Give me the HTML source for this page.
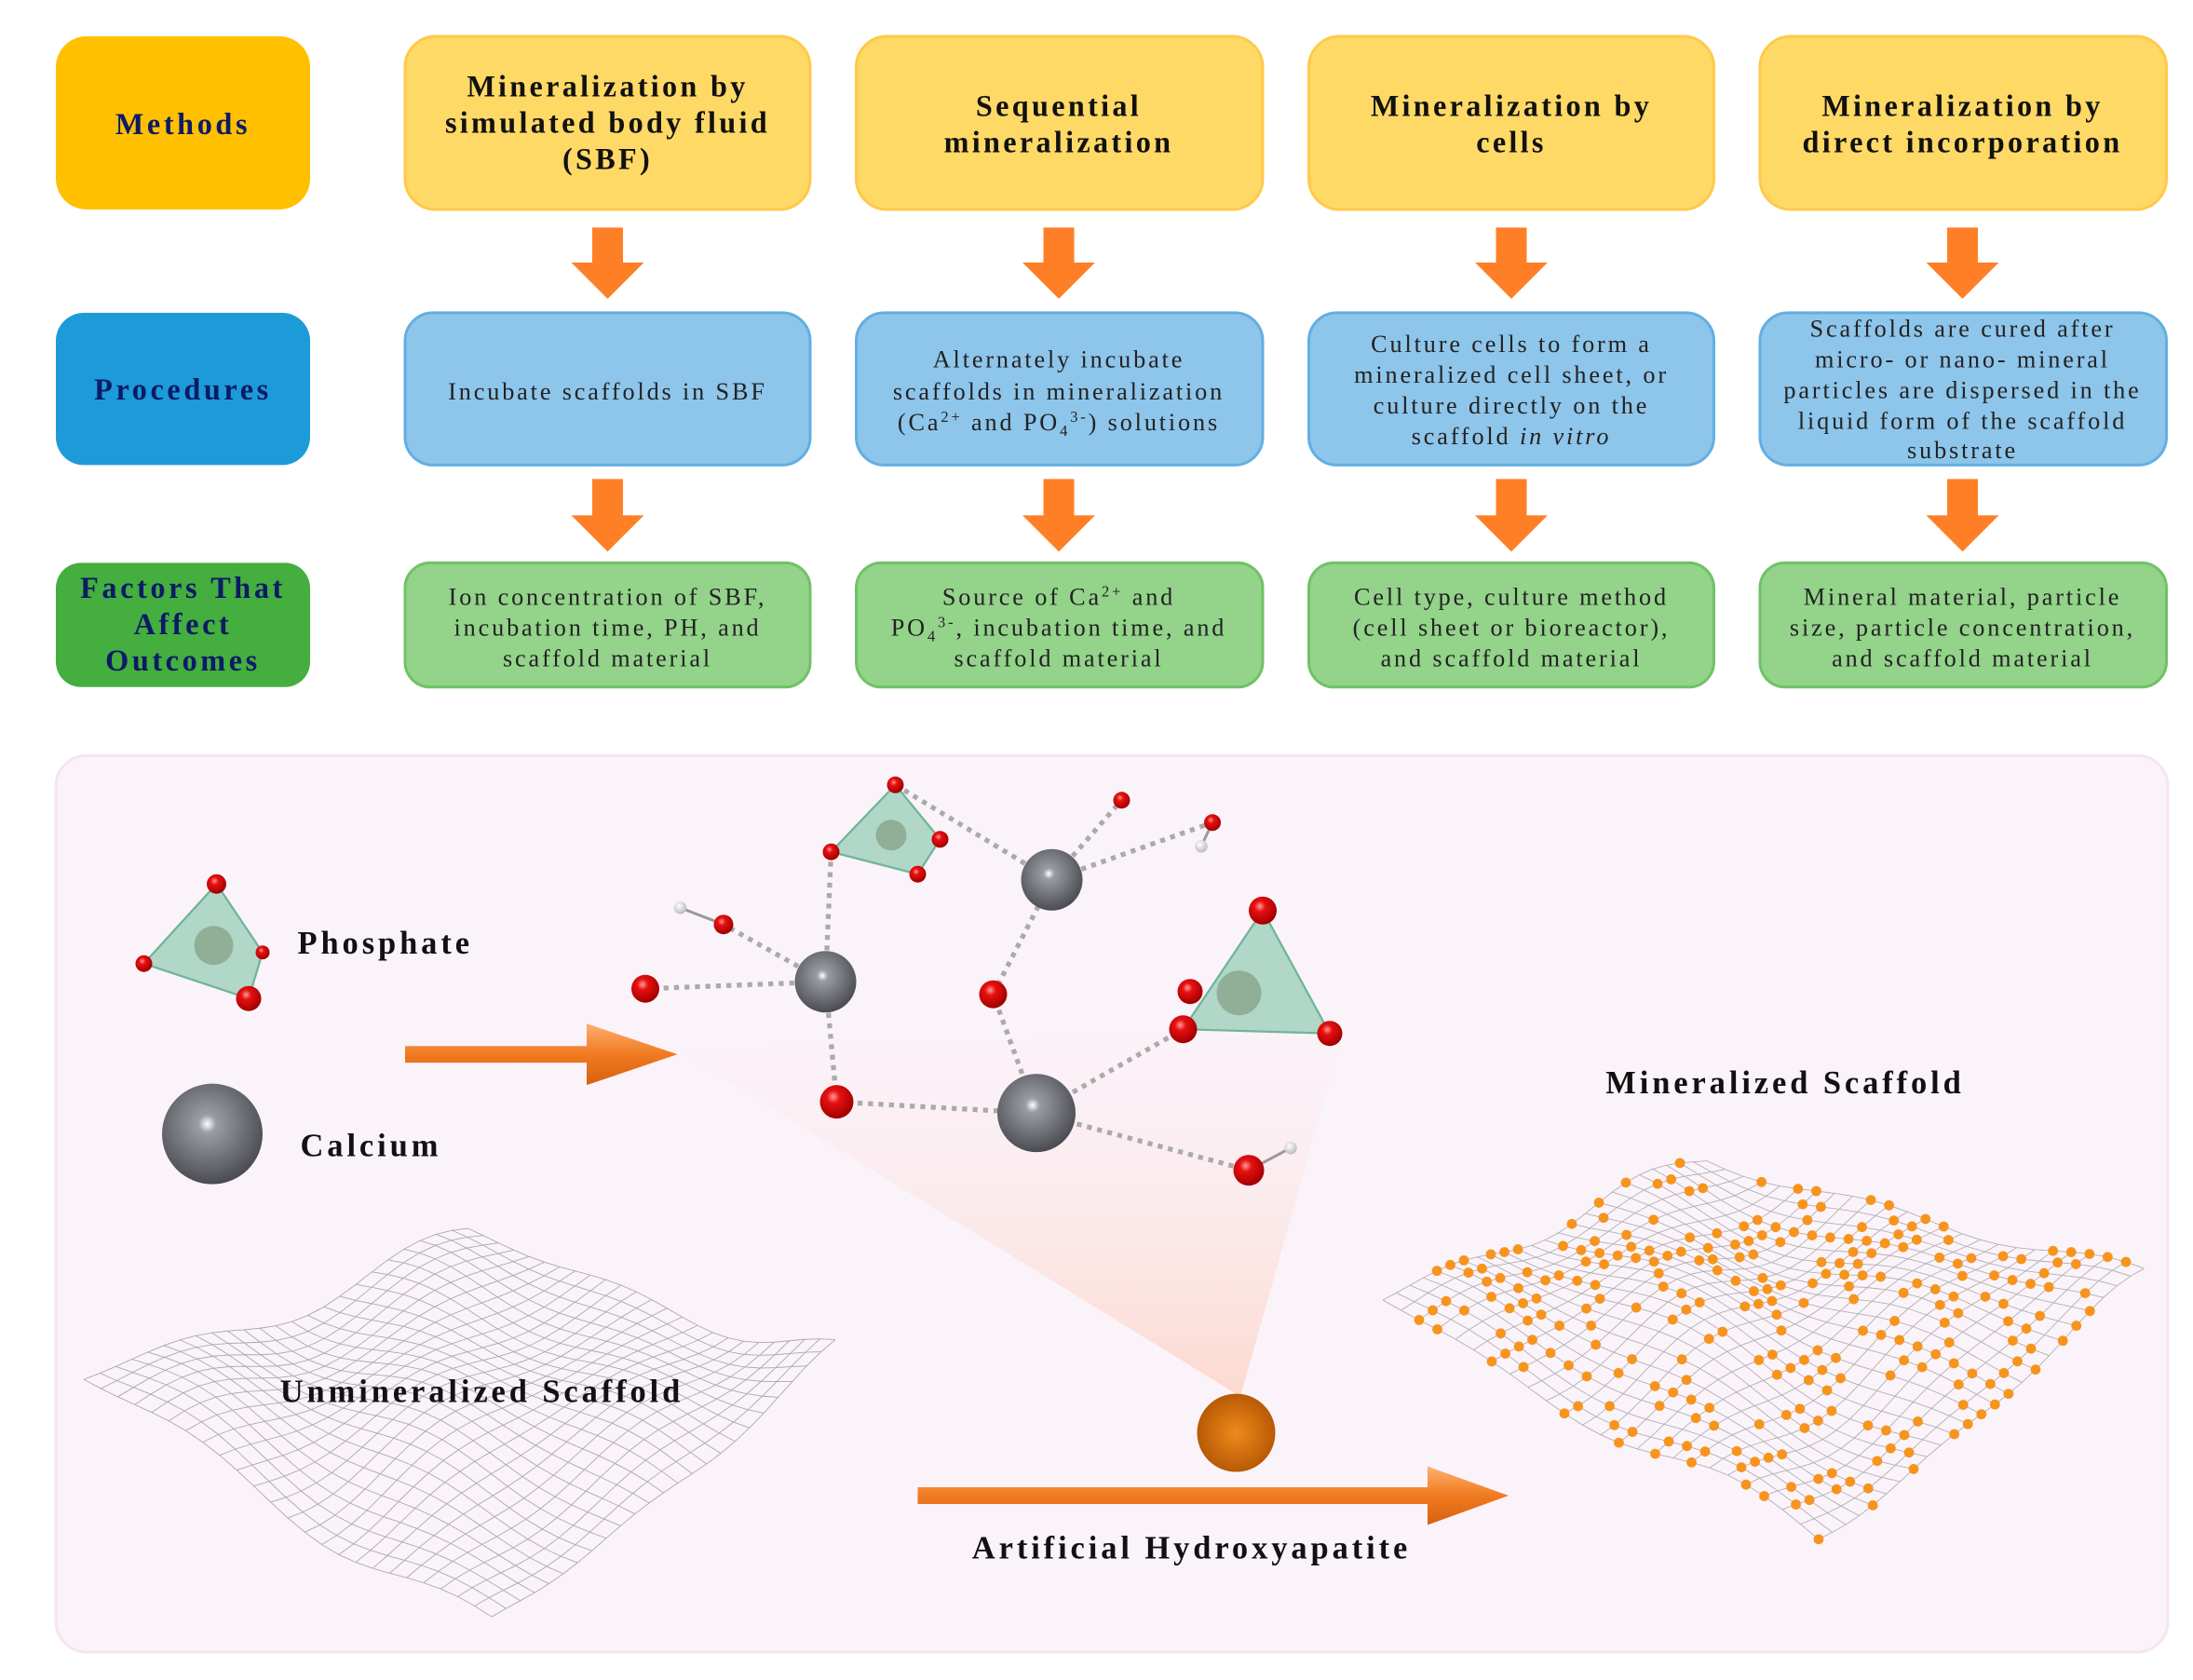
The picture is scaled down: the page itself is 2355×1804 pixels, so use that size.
<!DOCTYPE html>
<html><head><meta charset="utf-8"><style>
html,body{margin:0;padding:0;background:#fff}
svg{display:block}
.h{font-family:"Liberation Serif",serif;font-weight:bold;font-size:21.5px;fill:#111;text-anchor:middle;letter-spacing:2.2px}
.l{font-family:"Liberation Serif",serif;font-weight:bold;font-size:21.5px;fill:#0d1a66;text-anchor:middle;letter-spacing:2.4px}
.b{font-family:"Liberation Serif",serif;font-size:17.5px;fill:#222;text-anchor:middle;letter-spacing:1.9px}
.t{font-family:"Liberation Serif",serif;font-weight:bold;font-size:23px;fill:#111;letter-spacing:2.6px}
</style></head><body>
<svg id="s" width="2355" height="1804" viewBox="0 0 1570 1203" preserveAspectRatio="none" xmlns="http://www.w3.org/2000/svg">
<defs>
<radialGradient id="ca" cx="0.45" cy="0.4" r="0.6"><stop offset="0" stop-color="#fff"/><stop offset="0.15" stop-color="#9a9ca3"/><stop offset="1" stop-color="#4a4c52"/></radialGradient>
<radialGradient id="ox" cx="0.4" cy="0.35" r="0.65"><stop offset="0" stop-color="#ff9a9a"/><stop offset="0.3" stop-color="#e81010"/><stop offset="1" stop-color="#a00000"/></radialGradient>
<radialGradient id="hy" cx="0.4" cy="0.35" r="0.65"><stop offset="0" stop-color="#fff"/><stop offset="1" stop-color="#bbb"/></radialGradient>
<radialGradient id="hap" cx="0.5" cy="0.5" r="0.5"><stop offset="0" stop-color="#f08a1c"/><stop offset="1" stop-color="#b85a05"/></radialGradient>
<linearGradient id="cone" x1="0" y1="0" x2="0" y2="1"><stop offset="0" stop-color="#fbeef3" stop-opacity="0.2"/><stop offset="1" stop-color="#fcd9cf"/></linearGradient>
<linearGradient id="arr" x1="0" y1="0" x2="0" y2="1"><stop offset="0" stop-color="#ffb070"/><stop offset="0.5" stop-color="#f07a20"/><stop offset="1" stop-color="#d86010"/></linearGradient>
</defs>
<rect x="40" y="26" width="182" height="124" rx="22" fill="#FFC000"/>
<text class="l" x="131" y="96">Methods</text>
<rect x="40" y="224" width="182" height="109" rx="20" fill="#1C9BD8"/>
<text class="l" x="131" y="286">Procedures</text>
<rect x="40" y="403" width="182" height="89" rx="18" fill="#44AE3E"/>
<text class="l" x="131" y="428">Factors That</text>
<text class="l" x="131" y="454">Affect</text>
<text class="l" x="131" y="480">Outcomes</text>

<g fill="#FFD966" stroke="#FFC94A" stroke-width="2">
<rect x="290" y="26" width="290" height="124" rx="22"/><rect x="613" y="26" width="291" height="124" rx="22"/>
<rect x="937" y="26" width="290" height="124" rx="22"/><rect x="1260" y="26" width="291" height="124" rx="22"/></g>
<g fill="#8EC5EA" stroke="#62AFE2" stroke-width="2">
<rect x="290" y="224" width="290" height="109" rx="20"/><rect x="613" y="224" width="291" height="109" rx="20"/>
<rect x="937" y="224" width="290" height="109" rx="20"/><rect x="1260" y="224" width="291" height="109" rx="20"/></g>
<g fill="#93D38A" stroke="#70C266" stroke-width="2">
<rect x="290" y="403" width="290" height="89" rx="18"/><rect x="613" y="403" width="291" height="89" rx="18"/>
<rect x="937" y="403" width="290" height="89" rx="18"/><rect x="1260" y="403" width="291" height="89" rx="18"/></g>

<text class="h" x="435" y="69">Mineralization by</text><text class="h" x="435" y="95">simulated body fluid</text><text class="h" x="435" y="121">(SBF)</text>
<text class="h" x="758" y="83">Sequential</text><text class="h" x="758" y="109">mineralization</text>
<text class="h" x="1082" y="83">Mineralization by</text><text class="h" x="1082" y="109">cells</text>
<text class="h" x="1405" y="83">Mineralization by</text><text class="h" x="1405" y="109">direct incorporation</text>

<text class="b" x="435" y="286">Incubate scaffolds in SBF</text>
<text class="b" x="758" y="263">Alternately incubate</text><text class="b" x="758" y="286">scaffolds in mineralization</text><text class="b" x="758" y="308">(Ca<tspan font-size="11" dy="-6">2+</tspan><tspan dy="6"> and PO</tspan><tspan font-size="11" dy="4">4</tspan><tspan font-size="11" dy="-10">3-</tspan><tspan dy="6">) solutions</tspan></text>
<text class="b" x="1082" y="252">Culture cells to form a</text><text class="b" x="1082" y="274">mineralized cell sheet, or</text><text class="b" x="1082" y="296">culture directly on the</text><text class="b" x="1082" y="318">scaffold <tspan font-style="italic">in vitro</tspan></text>
<text class="b" x="1405" y="241">Scaffolds are cured after</text><text class="b" x="1405" y="263">micro- or nano- mineral</text><text class="b" x="1405" y="285">particles are dispersed in the</text><text class="b" x="1405" y="307">liquid form of the scaffold</text><text class="b" x="1405" y="328">substrate</text>

<text class="b" x="435" y="433">Ion concentration of SBF,</text><text class="b" x="435" y="455">incubation time, PH, and</text><text class="b" x="435" y="477">scaffold material</text>
<text class="b" x="758" y="433">Source of Ca<tspan font-size="11" dy="-6">2+</tspan><tspan dy="6"> and</tspan></text><text class="b" x="758" y="455">PO<tspan font-size="11" dy="4">4</tspan><tspan font-size="11" dy="-10">3-</tspan><tspan dy="6">, incubation time, and</tspan></text><text class="b" x="758" y="477">scaffold material</text>
<text class="b" x="1082" y="433">Cell type, culture method</text><text class="b" x="1082" y="455">(cell sheet or bioreactor),</text><text class="b" x="1082" y="477">and scaffold material</text>
<text class="b" x="1405" y="433">Mineral material, particle</text><text class="b" x="1405" y="455">size, particle concentration,</text><text class="b" x="1405" y="477">and scaffold material</text>

<g id="arrows" fill="#FF7F27"></g>

<rect x="40" y="541" width="1512" height="642" rx="22" fill="#FBF3FA" stroke="#F6E4F0" stroke-width="2"/>
<polygon points="485,752 962,738 888,1000" fill="url(#cone)"/>
<g id="meshA" fill="none" stroke="#aaa" stroke-width="0.6"></g>
<g id="meshB" fill="none" stroke="#b0b0b0" stroke-width="0.6"></g>
<g id="dots" fill="#F7941D"></g>
<g id="mol"></g>

<text class="t" x="213" y="683">Phosphate</text>
<text class="t" x="215" y="828">Calcium</text>
<text class="t" x="345" y="1004" text-anchor="middle">Unmineralized Scaffold</text>
<text class="t" x="1278" y="783" text-anchor="middle">Mineralized Scaffold</text>
<text class="t" x="853" y="1116" text-anchor="middle">Artificial Hydroxyapatite</text>

<polygon points="290,749 420,749 420,733 485,755 420,777 420,761 290,761" fill="url(#arr)"/>
<polygon points="657,1065 1022,1065 1022,1050 1080,1071 1022,1092 1022,1077 657,1077" fill="url(#arr)"/>
<circle cx="885" cy="1026" r="28" fill="url(#hap)"/>
</svg>
<script>
var NS="http://www.w3.org/2000/svg";
function el(p,t,a){var e=document.createElementNS(NS,t);for(var k in a)e.setAttribute(k,a[k]);p.appendChild(e);return e;}
var ar=document.getElementById("arrows");
[435,758,1082,1405].forEach(function(cx){[[163,214],[343,395]].forEach(function(r){
var y0=r[0],y1=r[1],hy=y1-26;
el(ar,"polygon",{points:(cx-11)+","+y0+" "+(cx+11)+","+y0+" "+(cx+11)+","+hy+" "+(cx+26)+","+hy+" "+cx+","+y1+" "+(cx-26)+","+hy+" "+(cx-11)+","+hy});});});
function mesh(g,L,T,R,B,n,amp,seed,dotsG){
 function P(u,v){
  var x=L[0]*(1-u)*(1-v)+T[0]*u*(1-v)+B[0]*(1-u)*v+R[0]*u*v;
  var y=L[1]*(1-u)*(1-v)+T[1]*u*(1-v)+B[1]*(1-u)*v+R[1]*u*v;
  y+=amp*Math.sin(u*7+seed)*Math.cos(v*6+seed*2)+amp*0.6*Math.sin((u+v)*11+seed);
  return [x,y];}
 var i,j,d;
 for(i=0;i<=n;i++){d="";for(j=0;j<=n;j++){var p=P(i/n,j/n);d+=(j?"L":"M")+p[0].toFixed(1)+","+p[1].toFixed(1);}el(g,"path",{d:d});
  d="";for(j=0;j<=n;j++){var p=P(j/n,i/n);d+=(j?"L":"M")+p[0].toFixed(1)+","+p[1].toFixed(1);}el(g,"path",{d:d});}
 if(dotsG){var s=7;function rnd(){s=(s*9301+49297)%233280;return s/233280;}
  for(i=0;i<=n;i++)for(j=0;j<=n;j++){if(rnd()<0.38){var p=P(i/n,j/n);el(dotsG,"circle",{cx:p[0].toFixed(1),cy:p[1].toFixed(1),r:3.6});}}}
}
mesh(document.getElementById("meshA"),[60,990],[335,888],[598,970],[352,1165],24,9,1.3,null);
mesh(document.getElementById("meshB"),[990,930],[1222,830],[1535,915],[1302,1105],24,9,2.1,document.getElementById("dots"));
var m=document.getElementById("mol");
var Ca=[[591,703,22],[753,630,22],[742,797,28]];
var dl=[[591,703,462,708],[591,703,518,662],[591,703,595,610],[591,703,599,789],[599,789,742,797],[742,797,711,712],[711,712,753,630],[753,630,641,562],[753,630,803,573],[753,630,868,589],[742,797,847,737],[742,797,894,838]];
dl.forEach(function(l){el(m,"line",{x1:l[0],y1:l[1],x2:l[2],y2:l[3],stroke:"#aaa","stroke-width":3.5,"stroke-dasharray":"3.5,4"});});
function tet(pts,c){el(m,"polygon",{points:pts.map(function(p){return p.join(",")}).join(" "),fill:"#7fc4a6","fill-opacity":0.6,stroke:"#6fb597","stroke-width":1.5});
 el(m,"circle",{cx:c[0],cy:c[1],r:c[2],fill:"#8aa58a","fill-opacity":0.8});}
tet([[641,562],[595,610],[657,626],[673,601]],[638,598,11]);
tet([[904,652],[847,737],[952,740]],[887,711,16]);
tet([[155,633],[103,690],[178,715],[188,682]],[153,677,14]);
function O(x,y,r){el(m,"circle",{cx:x,cy:y,r:r,fill:"url(#ox)"});}
function H(x,y,ox,oy){el(m,"line",{x1:x,y1:y,x2:ox,y2:oy,stroke:"#999","stroke-width":2});el(m,"circle",{cx:x,cy:y,r:4.5,fill:"url(#hy)"});}
H(487,650,518,662);H(860,606,868,589);H(924,822,894,838);
[[641,562,6],[595,610,6],[673,601,6],[657,626,6],[803,573,6],[868,589,6],[518,662,7],[462,708,10],[711,712,10],[599,789,12],[894,838,11],[904,652,10],[852,710,9],[847,737,10],[952,740,9],[155,633,7],[103,690,6],[178,715,9],[188,682,5]].forEach(function(o){O(o[0],o[1],o[2]);});
Ca.forEach(function(c){el(m,"circle",{cx:c[0],cy:c[1],r:c[2],fill:"url(#ca)"});});
el(m,"circle",{cx:152,cy:812,r:36,fill:"url(#ca)"});
</script>
</body></html>
